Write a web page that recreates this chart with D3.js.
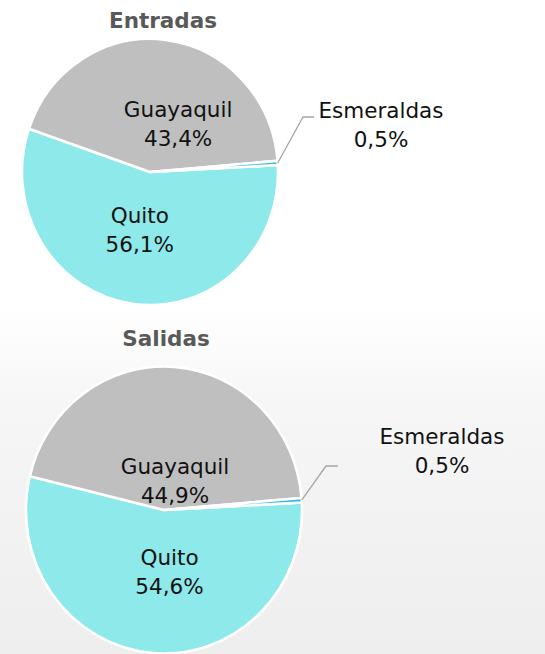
<!DOCTYPE html>
<html>
<head>
<meta charset="utf-8">
<script src="https://cdn.jsdelivr.net/npm/d3@7"></script>
<style>
  html, body { margin: 0; padding: 0; background: #fff; }
  svg { display: block; }
  text { font-family: "DejaVu Sans", sans-serif; }
</style>
</head>
<body>
<div id="chart"></div>
<script>
// data
var regions = ["Quito", "Guayaquil", "Esmeraldas"];
var entradas = [56.1, 43.4, 0.5];
var salidas = [54.6, 44.9, 0.5];
var titles = ["Entradas", "Salidas"];
var colors = ["#8de9ea", "#bfbfbf", "#2eb8e6"];

var width = 545, height = 654;

// layout for each pie (label offsets are in units of radius)
var charts = [
  { title: titles[0], values: entradas, cx: 150, cy: 172, r: 128, sy: 1.04,
    titleX: 163, titleY: 28,
    labels: [[-0.08, 0.43], [0.22, -0.40]],
    callout: { elbow: [303, 117], end: [314, 117], x: 381, y: 118 } },
  { title: titles[1], values: salidas, cx: 164, cy: 510, r: 138, sy: 1.04,
    titleX: 166, titleY: 346,
    labels: [[0.04, 0.43], [0.08, -0.23]],
    callout: { elbow: [326, 466], end: [338, 466], x: 442, y: 444 } }
];

var svg = d3.select("#chart").append("svg")
  .attr("width", width)
  .attr("height", height);

var defs = svg.append("defs");
var grad = defs.append("linearGradient")
  .attr("id", "bg").attr("x1", 0).attr("y1", 0).attr("x2", 0).attr("y2", 1);
grad.append("stop").attr("offset", "0%").attr("stop-color", "#ffffff");
grad.append("stop").attr("offset", "47%").attr("stop-color", "#ffffff");
grad.append("stop").attr("offset", "62%").attr("stop-color", "#f6f6f6");
grad.append("stop").attr("offset", "100%").attr("stop-color", "#eeeeee");

svg.append("rect")
  .attr("width", width).attr("height", height)
  .attr("fill", "url(#bg)");

var startA = 87 / 180 * Math.PI;
var pie = d3.pie().sort(null).value(d => d)
  .startAngle(startA).endAngle(startA + 2 * Math.PI);

var fmt = v => d3.format(".1f")(v).replace(".", ",") + "%";

charts.forEach(function(c) {
  var arcs = pie(c.values);
  var arc = d3.arc().innerRadius(0).outerRadius(c.r);

  svg.append("text")
    .attr("x", c.titleX).attr("y", c.titleY)
    .attr("text-anchor", "middle")
    .attr("font-size", 21.5).attr("font-weight", "bold")
    .attr("fill", "#595959")
    .text(c.title);

  var g = svg.append("g")
    .attr("transform", "translate(" + c.cx + "," + c.cy + ") scale(1," + c.sy + ")");

  g.selectAll("path").data(arcs).enter().append("path")
    .attr("d", arc)
    .attr("fill", (d, i) => colors[i])
    .attr("stroke", "#fff")
    .attr("stroke-width", 2.5)
    .attr("stroke-linejoin", "round");

  // inside labels for the two big slices
  arcs.slice(0, 2).forEach(function(d, i) {
    var lx = c.cx + c.labels[i][0] * c.r;
    var ly = c.cy + c.labels[i][1] * c.r;
    var t = svg.append("text")
      .attr("text-anchor", "middle")
      .attr("font-size", 21.5)
      .attr("fill", "#111");
    t.append("tspan").attr("x", lx).attr("y", ly - 4).text(regions[i]);
    t.append("tspan").attr("x", lx).attr("y", ly + 25).text(fmt(d.value));
  });

  // callout for the small slice
  var e = arcs[2];
  var mid = (e.startAngle + e.endAngle) / 2;
  var px = c.cx + c.r * Math.sin(mid);
  var py = c.cy - c.r * c.sy * Math.cos(mid);
  svg.append("polyline")
    .attr("points", [[px, py], c.callout.elbow, c.callout.end].map(p => p.join(",")).join(" "))
    .attr("fill", "none")
    .attr("stroke", "#a6a6a6")
    .attr("stroke-width", 1.3);

  var t2 = svg.append("text")
    .attr("text-anchor", "middle")
    .attr("font-size", 21.5)
    .attr("fill", "#111");
  t2.append("tspan").attr("x", c.callout.x).attr("y", c.callout.y).text(regions[2]);
  t2.append("tspan").attr("x", c.callout.x).attr("y", c.callout.y + 29).text(fmt(e.value));
});
</script>
</body>
</html>
